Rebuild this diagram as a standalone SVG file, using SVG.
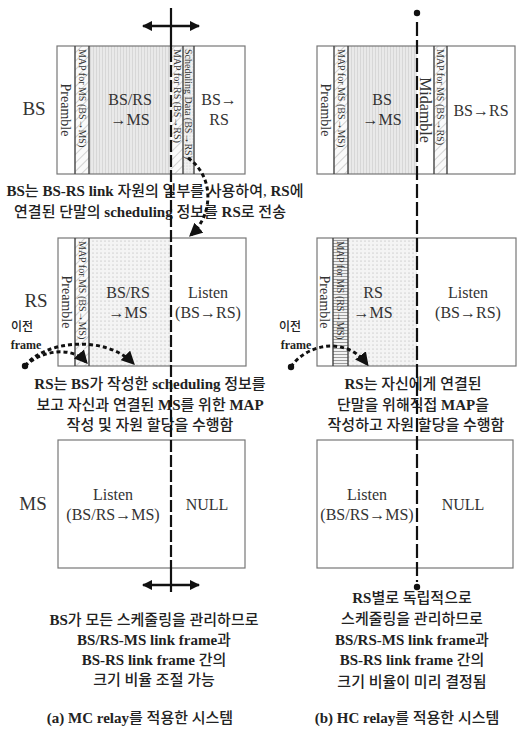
<svg xmlns="http://www.w3.org/2000/svg" width="518" height="742" viewBox="0 0 518 742">
<style>
.fr{fill:none;stroke:#777;stroke-width:1.2}
.sep{stroke:#444;stroke-width:1.4}
.t{font-family:"Liberation Serif","Noto Sans CJK KR",serif;fill:#333;text-anchor:middle}
.f16{font-size:16px}
.f14{font-size:14px}
.f10{font-size:10px}
.lab{font-family:"Liberation Serif",serif;font-size:19px;fill:#333;text-anchor:middle}
.k{font-family:"Liberation Serif","Noto Sans CJK KR",serif;font-size:15px;font-weight:500;fill:#222;text-anchor:middle}
.b{font-weight:bold}
.dl{fill:none;stroke:#111;stroke-width:3;stroke-dasharray:4 3}
.vl{fill:none;stroke:#111;stroke-width:2.2}
</style>
<defs>
<pattern id="pStripe" width="3" height="4" patternUnits="userSpaceOnUse"><rect width="3" height="4" fill="#e9e9e9"/><line x1="0.5" y1="0" x2="0.5" y2="4" stroke="#d2d2d2" stroke-width="0.8"/></pattern>
<pattern id="pDots" width="4" height="4" patternUnits="userSpaceOnUse"><rect width="4" height="4" fill="#f4f4f4"/><circle cx="1" cy="1" r="0.55" fill="#aaa"/></pattern>
<pattern id="pHatch" width="6" height="6" patternUnits="userSpaceOnUse" patternTransform="rotate(45)"><rect width="6" height="6" fill="#fafafa"/><line x1="0" y1="0" x2="0" y2="6" stroke="#aaa" stroke-width="1"/></pattern>
<pattern id="pH" width="4" height="3" patternUnits="userSpaceOnUse"><rect width="4" height="3" fill="#f2f2f2"/><line x1="0" y1="0.5" x2="4" y2="0.5" stroke="#888" stroke-width="0.8"/></pattern>
<pattern id="pLight" width="3" height="3" patternUnits="userSpaceOnUse"><rect width="3" height="3" fill="#f0f0f0"/><circle cx="1" cy="1" r="0.5" fill="#bbb"/></pattern>
<marker id="ah" viewBox="0 0 10 10" refX="9" refY="5" markerWidth="4" markerHeight="4" orient="auto-start-reverse"><path d="M0,0 L10,5 L0,10 z" fill="#111"/></marker>
<marker id="ad" viewBox="0 0 10 10" refX="8" refY="5" markerWidth="4.5" markerHeight="4.5" orient="auto"><path d="M0,0 L10,5 L0,10 z" fill="#111"/></marker>
<clipPath id="cBSL"><rect x="57" y="46" width="188" height="128"/></clipPath>
<clipPath id="cBSR"><rect x="317" y="46" width="198" height="128"/></clipPath>
<clipPath id="cRSL"><rect x="58" y="238" width="188" height="128"/></clipPath>
<clipPath id="cRSR"><rect x="317" y="238" width="199" height="128"/></clipPath>
</defs>

<!-- row labels -->
<g id="labels">
<text class="lab" x="34" y="115">BS</text>
<text class="lab" x="36" y="307">RS</text>
<text class="lab" x="33" y="510">MS</text>
</g>

<!-- Left BS frame -->
<g id="bs-left">
<rect x="57" y="46" width="18" height="128" fill="#fff"/>
<rect x="75" y="46" width="14" height="128" fill="url(#pHatch)"/>
<rect x="89" y="46" width="82" height="128" fill="url(#pStripe)"/>
<rect x="171" y="46" width="12" height="128" fill="url(#pHatch)"/>
<rect x="183" y="46" width="11" height="128" fill="url(#pLight)"/>
<rect x="194" y="46" width="51" height="128" fill="#fff"/>
<rect class="fr" x="57" y="46" width="188" height="128"/>
<line class="sep" x1="75" y1="46" x2="75" y2="174"/>
<line class="sep" x1="89" y1="46" x2="89" y2="174"/>
<line class="sep" x1="183" y1="46" x2="183" y2="174"/>
<line class="sep" x1="194" y1="46" x2="194" y2="174"/>
<g clip-path="url(#cBSL)">
<text class="t f14" transform="translate(66,110) rotate(90)" dy="0.35em">Preamble</text>
<text class="t f10" style="text-anchor:start" transform="translate(82,49) rotate(90)" dy="0.35em">MAP for MS (BS→MS)</text>
<text class="t f10" style="text-anchor:start" transform="translate(177,49) rotate(90)" dy="0.35em">MAP for RS (BS→RS)</text>
<text class="t f10" style="text-anchor:start" transform="translate(188.5,49) rotate(90)" dy="0.35em">Scheduling Data (BS→RS)</text>
</g>
<text class="t f16" x="130" y="105">BS/RS</text>
<text class="t f16" x="130" y="125">→MS</text>
<text class="t f16" x="219" y="105">BS→</text>
<text class="t f16" x="219" y="125">RS</text>
</g>

<!-- Right BS frame -->
<g id="bs-right">
<rect x="317" y="46" width="17" height="128" fill="#fff"/>
<rect x="334" y="46" width="14" height="128" fill="url(#pHatch)"/>
<rect x="348" y="46" width="69" height="128" fill="url(#pStripe)"/>
<rect x="417" y="46" width="17" height="128" fill="#fff"/>
<rect x="434" y="46" width="13" height="128" fill="url(#pHatch)"/>
<rect x="447" y="46" width="68" height="128" fill="#fff"/>
<rect class="fr" x="317" y="46" width="198" height="128"/>
<line class="sep" x1="334" y1="46" x2="334" y2="174"/>
<line class="sep" x1="348" y1="46" x2="348" y2="174"/>
<line class="sep" x1="434" y1="46" x2="434" y2="174"/>
<line class="sep" x1="447" y1="46" x2="447" y2="174"/>
<g clip-path="url(#cBSR)">
<text class="t f14" transform="translate(325.5,110) rotate(90)" dy="0.35em">Preamble</text>
<text class="t f10" style="text-anchor:start" transform="translate(341,49) rotate(90)" dy="0.35em">MAP for MS (BS→MS)</text>
<text class="t f16" transform="translate(425.5,110) rotate(90)" dy="0.35em">Midamble</text>
<text class="t f10" style="text-anchor:start" transform="translate(440.5,49) rotate(90)" dy="0.35em">MAP for MS (BS→RS)</text>
</g>
<text class="t f16" x="382" y="105">BS</text>
<text class="t f16" x="382" y="125">→MS</text>
<text class="t f16" x="481" y="116">BS→RS</text>
</g>

<!-- Left RS frame -->
<g id="rs-left">
<rect x="58" y="238" width="17" height="128" fill="#fff"/>
<rect x="75" y="238" width="14" height="128" fill="url(#pHatch)"/>
<rect x="89" y="238" width="82" height="128" fill="url(#pDots)"/>
<rect x="171" y="238" width="75" height="128" fill="#fff"/>
<rect class="fr" x="58" y="238" width="188" height="128"/>
<line class="sep" x1="75" y1="238" x2="75" y2="366"/>
<line class="sep" x1="89" y1="238" x2="89" y2="366"/>
<g clip-path="url(#cRSL)">
<text class="t f14" transform="translate(66.5,302) rotate(90)" dy="0.35em">Preamble</text>
<text class="t f10" style="text-anchor:start" transform="translate(82,241) rotate(90)" dy="0.35em">MAP for MS (BS→MS)</text>
</g>
<text class="t f16" x="128" y="298">BS/RS</text>
<text class="t f16" x="128" y="318">→MS</text>
<text class="t f16" x="208" y="298">Listen</text>
<text class="t f16" x="208" y="318">(BS→RS)</text>
</g>

<!-- Right RS frame -->
<g id="rs-right">
<rect x="317" y="238" width="16" height="128" fill="#fff"/>
<rect x="333" y="238" width="15" height="128" fill="url(#pH)"/>
<rect x="348" y="238" width="69" height="128" fill="url(#pDots)"/>
<rect x="417" y="238" width="99" height="128" fill="#fff"/>
<rect class="fr" x="317" y="238" width="199" height="128"/>
<line class="sep" x1="333" y1="238" x2="333" y2="366"/>
<line class="sep" x1="348" y1="238" x2="348" y2="366"/>
<g clip-path="url(#cRSR)">
<text class="t f14" transform="translate(325,302) rotate(90)" dy="0.35em">Preamble</text>
<text class="t f10" style="text-anchor:start" transform="translate(340.5,241) rotate(90)" dy="0.35em">MAP for MS (RS→MS)</text>
</g>
<text class="t f16" x="373" y="298">RS</text>
<text class="t f16" x="373" y="318">→MS</text>
<text class="t f16" x="468" y="298">Listen</text>
<text class="t f16" x="468" y="318">(BS→RS)</text>
</g>

<!-- MS frames -->
<g id="ms-left">
<rect class="fr" x="58" y="440" width="187" height="128" fill="#fff"/>
<text class="t f16" x="113" y="500">Listen</text>
<text class="t f16" x="113" y="520">(BS/RS→MS)</text>
<text class="t f16" x="207" y="510">NULL</text>
</g>
<g id="ms-right">
<rect class="fr" x="317" y="440" width="196" height="128" fill="#fff"/>
<text class="t f16" x="367" y="500">Listen</text>
<text class="t f16" x="367" y="520">(BS/RS→MS)</text>
<text class="t f16" x="463" y="510">NULL</text>
</g>

<!-- text blocks -->
<g id="note-bs">
<text class="k" x="155" y="196"><tspan class="b">BS</tspan>는 <tspan class="b">BS-RS link</tspan> 자원의 일부를 사용하여, <tspan class="b">RS</tspan>에</text>
<text class="k" x="150" y="217">연결된 단말의 <tspan class="b">scheduling</tspan> 정보를 <tspan class="b">RS</tspan>로 전송</text>
</g>
<g id="note-rs-left">
<text class="k" x="150" y="389"><tspan class="b">RS</tspan>는 <tspan class="b">BS</tspan>가 작성한 <tspan class="b">scheduling</tspan> 정보를</text>
<text class="k" x="150" y="410">보고 자신과 연결된 <tspan class="b">MS</tspan>를 위한 <tspan class="b">MAP</tspan></text>
<text class="k" x="150" y="430">작성 및 자원 할당을 수행함</text>
</g>
<g id="note-rs-right">
<text class="k" x="413" y="389"><tspan class="b">RS</tspan>는 자신에게 연결된</text>
<text class="k" x="413" y="410">단말을 위해직접 <tspan class="b">MAP</tspan>을</text>
<text class="k" x="416" y="430">작성하고 자원 할당을 수행함</text>
</g>
<g id="note-bottom-left">
<text class="k" x="154" y="625"><tspan class="b">BS</tspan>가 모든 스케줄링을 관리하므로</text>
<text class="k" x="154" y="645"><tspan class="b">BS/RS-MS link frame</tspan>과</text>
<text class="k" x="154" y="665"><tspan class="b">BS-RS link frame</tspan> 간의</text>
<text class="k" x="154" y="685">크기 비율 조절 가능</text>
</g>
<g id="note-bottom-right">
<text class="k" x="412" y="603"><tspan class="b">RS</tspan>별로 독립적으로</text>
<text class="k" x="412" y="624">스케줄링을 관리하므로</text>
<text class="k" x="412" y="645"><tspan class="b">BS/RS-MS link frame</tspan>과</text>
<text class="k" x="412" y="665"><tspan class="b">BS-RS link frame</tspan> 간의</text>
<text class="k" x="412" y="687">크기 비율이 미리 결정됨</text>
</g>
<g id="captions">
<text class="k" x="140" y="723"><tspan class="b">(a) MC relay</tspan>를 적용한 시스템</text>
<text class="k" x="407" y="723"><tspan class="b">(b) HC relay</tspan>를 적용한 시스템</text>
</g>
<g id="prev-labels">
<text class="k" style="font-size:12px" x="22" y="331">이전</text>
<text class="k b" style="font-size:12px" x="26" y="349">frame</text>
<text class="k" style="font-size:12px" x="290" y="331">이전</text>
<text class="k b" style="font-size:12px" x="296" y="349">frame</text>
</g>

<!-- connectors -->
<g id="connectors">
<line class="vl" x1="171" y1="8" x2="171" y2="50"/>
<line class="vl" x1="171" y1="50" x2="171" y2="568" stroke-dasharray="12 3"/>
<line class="vl" x1="171" y1="568" x2="171" y2="592"/>
<line x1="143" y1="26" x2="199" y2="26" stroke="#111" stroke-width="2.6" marker-start="url(#ah)" marker-end="url(#ah)"/>
<line x1="143" y1="585" x2="199" y2="585" stroke="#111" stroke-width="2.6" marker-start="url(#ah)" marker-end="url(#ah)"/>
<circle cx="417" cy="13" r="3.2" fill="#111"/>
<line class="vl" x1="417" y1="22" x2="417" y2="582" stroke-dasharray="14 4"/>
<circle cx="417" cy="587" r="3.2" fill="#111"/>
<path class="dl" d="M188,158 C214,176 214,214 191,235" marker-end="url(#ad)"/>
<circle cx="25" cy="366" r="3.2" fill="#111"/>
<path class="dl" d="M25,366 C45,340 105,335 133,363" marker-end="url(#ad)"/>
<path class="dl" d="M25,366 C42,350 72,346 86,362" marker-end="url(#ad)"/>
<circle cx="291" cy="367" r="3.2" fill="#111"/>
<path class="dl" d="M291,367 C305,345 345,335 367,364" marker-end="url(#ad)"/>
</g>
</svg>
